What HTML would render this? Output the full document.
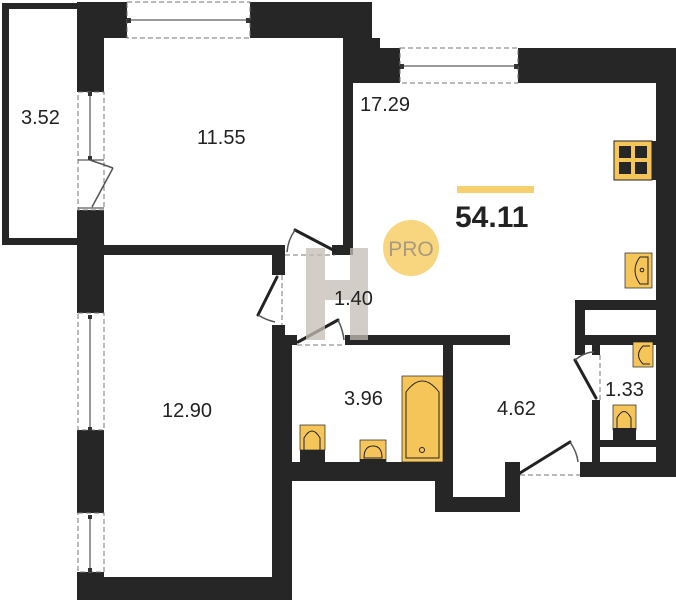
<!DOCTYPE html>
<html><head><meta charset="utf-8"><style>
html,body{margin:0;padding:0;background:#fff;}
svg{display:block;}
text{font-family:"Liberation Sans",sans-serif;fill:#222;}
</style></head><body>
<svg width="676" height="600" viewBox="0 0 676 600" xmlns="http://www.w3.org/2000/svg">
<g fill="#262626">
<rect x="2" y="3" width="80" height="6"/>
<rect x="2" y="3" width="7" height="242"/>
<rect x="2" y="238" width="90" height="7"/>
<rect x="77" y="3" width="27" height="89"/>
<rect x="77" y="210" width="27" height="103"/>
<rect x="77" y="430" width="27" height="83"/>
<rect x="77" y="572" width="27" height="28"/>
<rect x="77" y="2" width="50" height="36"/>
<rect x="250" y="2" width="122" height="36"/>
<rect x="343" y="38" width="37" height="10"/>
<rect x="343" y="48" width="57" height="35"/>
<rect x="343" y="38" width="10" height="217"/>
<rect x="518" y="48" width="158" height="35"/>
<rect x="656" y="48" width="20" height="429"/>
<rect x="104" y="245" width="181" height="10"/>
<rect x="332" y="245" width="20" height="10"/>
<rect x="272" y="245" width="13" height="30"/>
<rect x="272" y="325" width="13" height="20"/>
<rect x="272" y="335" width="20" height="265"/>
<rect x="77" y="577" width="215" height="23"/>
<rect x="272" y="335" width="25" height="10"/>
<rect x="345" y="335" width="165" height="10"/>
<rect x="443" y="335" width="10" height="177"/>
<rect x="272" y="462" width="181" height="19"/>
<rect x="435" y="481" width="18" height="31"/>
<rect x="435" y="497" width="85" height="15"/>
<rect x="505" y="462" width="15" height="50"/>
<rect x="580" y="462" width="96" height="15"/>
<rect x="575" y="300" width="81" height="10"/>
<rect x="575" y="300" width="10" height="55"/>
<rect x="575" y="335" width="81" height="10"/>
<rect x="592" y="335" width="8" height="20"/>
<rect x="592" y="400" width="8" height="70"/>
<rect x="600" y="440" width="56" height="7"/>
</g>
<g fill="none" stroke="#777" stroke-width="1" stroke-dasharray="5,3">
<rect x="127" y="2" width="123" height="36"/>
<rect x="400" y="48" width="118" height="35"/>
<rect x="78" y="92" width="26" height="118"/>
<rect x="78" y="313" width="26" height="117"/>
<rect x="78" y="513" width="26" height="59"/>
<line x1="285" y1="255" x2="335" y2="255"/>
<line x1="282" y1="275" x2="282" y2="325"/>
<line x1="297" y1="345" x2="345" y2="345"/>
<line x1="520" y1="475" x2="580" y2="475"/>
<line x1="600" y1="355" x2="600" y2="400"/>
</g>
<g stroke="#333" stroke-width="1">
<line x1="129" y1="20" x2="248" y2="20"/>
<line x1="402" y1="66" x2="516" y2="66"/>
<line x1="90" y1="95" x2="90" y2="158"/>
<line x1="90" y1="317" x2="90" y2="428"/>
<line x1="90" y1="517" x2="90" y2="570"/>
<line x1="78" y1="160" x2="104" y2="160"/>
<line x1="78" y1="208" x2="104" y2="208"/>
</g>
<g fill="#333">
<rect x="127" y="18" width="4" height="5"/><rect x="246" y="18" width="4" height="5"/>
<rect x="400" y="64" width="4" height="5"/><rect x="514" y="64" width="4" height="5"/>
<rect x="88" y="92" width="4" height="4"/><rect x="88" y="156" width="4" height="4"/>
<rect x="88" y="315" width="4" height="4"/><rect x="88" y="427" width="4" height="4"/>
<rect x="88" y="515" width="4" height="4"/><rect x="88" y="568" width="4" height="4"/>
</g>
<g stroke="#222" stroke-width="3" stroke-linecap="round">
<line x1="335" y1="251" x2="295" y2="230"/>
<line x1="277" y1="277" x2="258" y2="315"/>
<line x1="298" y1="342" x2="338" y2="320"/>
<line x1="520" y1="473" x2="570" y2="442"/>
<line x1="596" y1="398" x2="575" y2="360"/>
</g>
<g stroke="#555" stroke-width="1.5" fill="none">
<line x1="90" y1="160" x2="113" y2="168"/><line x1="113" y1="168" x2="92" y2="207"/>
<path d="M295 230 Q288 240 287 252"/>
<path d="M258 315 Q266 320 275 322"/>
<path d="M338 320 Q343 330 344 340"/>
<path d="M570 442 Q577 452 578 462"/>
<path d="M575 360 Q585 352 594 352"/>
</g>
<g fill="#c4bdb5" opacity="0.75">
<rect x="306" y="248" width="19" height="92"/>
<rect x="350" y="248" width="18" height="92"/>
<rect x="325" y="280" width="25" height="20"/>
</g>
<rect x="614" y="141" width="38" height="39" fill="#f5c55a" stroke="#222"/>
<g fill="#262626"><rect x="619" y="146" width="12" height="12"/><rect x="635" y="146" width="12" height="12"/><rect x="619" y="162" width="12" height="12"/><rect x="635" y="162" width="12" height="12"/></g>
<rect x="652" y="141" width="4" height="39" fill="#262626"/>
<rect x="625" y="253" width="27" height="35" fill="#f5c55a" stroke="#222" stroke-width="0.7"/>
<path d="M648 257 L640 257 Q630 270 640 284 L648 284 Z" fill="none" stroke="#222"/>
<circle cx="642" cy="270" r="1.8" fill="none" stroke="#222"/>
<rect x="633" y="342" width="20" height="25" fill="#f5c55a" stroke="#222" stroke-width="0.7"/>
<path d="M650 346 L643 346 Q634 355 643 364 L650 364" fill="none" stroke="#222"/>
<rect x="613" y="405" width="23" height="25" fill="#f5c55a" stroke="#222" stroke-width="0.7"/>
<rect x="613" y="428" width="23" height="12" fill="#262626"/>
<path d="M617 428 L617 418 Q624 405 631 418 L631 428" fill="none" stroke="#222"/>
<rect x="402" y="376" width="41" height="86" fill="#f5c55a" stroke="#222" stroke-width="0.7"/>
<path d="M406 458 L406 392 Q422 370 439 392 L439 458 Z" fill="none" stroke="#222"/>
<circle cx="422" cy="450" r="2.5" fill="none" stroke="#222"/>
<rect x="300" y="425" width="25" height="25" fill="#f5c55a" stroke="#222" stroke-width="0.7"/>
<rect x="300" y="450" width="25" height="12" fill="#262626"/>
<path d="M304 450 L304 438 Q312 424 320 438 L320 450" fill="none" stroke="#222"/>
<rect x="360" y="440" width="26" height="22" fill="#f5c55a" stroke="#222" stroke-width="0.7"/>
<path d="M364 458 Q364 446 373 446 Q382 446 382 458 Z" fill="none" stroke="#222"/>
<rect x="360" y="459" width="26" height="3" fill="#262626"/>
<rect x="457" y="186" width="77" height="7" fill="#f6cf6e"/>
<text x="455" y="227" font-size="30" font-weight="bold" fill="#111">54.11</text>
<circle cx="411" cy="248" r="28" fill="#f8d57f"/>
<text x="411" y="256" font-size="21" text-anchor="middle" style="fill:#a89a7f">PRO</text>
<g font-size="20">
<text x="21" y="124">3.52</text>
<text x="197" y="144">11.55</text>
<text x="360" y="111">17.29</text>
<text x="334" y="305">1.40</text>
<text x="162" y="417">12.90</text>
<text x="344" y="405">3.96</text>
<text x="497" y="415">4.62</text>
<text x="605" y="396">1.33</text>
</g>
</svg>
</body></html>
